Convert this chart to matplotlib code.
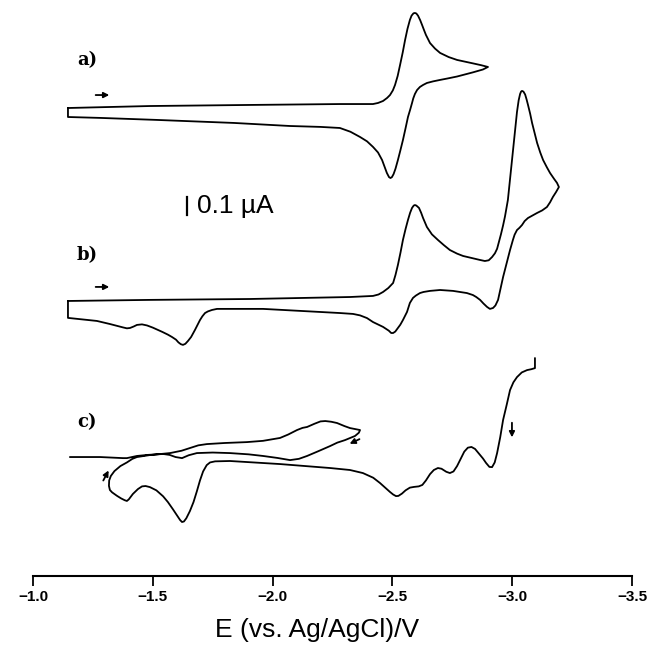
import numpy as np
import matplotlib
matplotlib.use("Agg")
import matplotlib.pyplot as plt

# potentials in V (vs. Ag/AgCl), currents in uA relative to each trace's start
# a) forward scan then return
a_E = [-1.146, -1.488, -1.906, -2.281, -2.419, -2.440, -2.461, -2.478, -2.490, -2.502,
       -2.511, -2.522, -2.532, -2.543, -2.553, -2.563, -2.573, -2.580, -2.588, -2.594,
       -2.600, -2.607, -2.616, -2.624, -2.632, -2.640, -2.657, -2.678, -2.699, -2.735,
       -2.770, -2.836, -2.870, -2.899,
       -2.878, -2.836, -2.770, -2.730, -2.699, -2.670, -2.644, -2.628, -2.615, -2.603,
       -2.594, -2.587, -2.582, -2.574, -2.565, -2.555, -2.544, -2.533, -2.523, -2.513,
       -2.505, -2.498, -2.492, -2.486, -2.477, -2.467, -2.457, -2.440, -2.419, -2.394,
       -2.365, -2.325, -2.281, -2.200, -2.073, -1.839, -1.513, -1.280, -1.146, -1.146]
a_I = [0.022, 0.033, 0.039, 0.044, 0.044, 0.050, 0.061, 0.078, 0.094, 0.120,
       0.150, 0.200, 0.261, 0.330, 0.400, 0.462, 0.511, 0.535, 0.548, 0.550,
       0.547, 0.535, 0.510, 0.483, 0.455, 0.428, 0.383, 0.352, 0.328, 0.305,
       0.289, 0.270, 0.260, 0.250,
       0.236, 0.220, 0.197, 0.186, 0.178, 0.170, 0.161, 0.150, 0.139, 0.122,
       0.100, 0.075, 0.050, 0.012, -0.028, -0.090, -0.156, -0.215, -0.267, -0.315,
       -0.345, -0.362, -0.367, -0.362, -0.339, -0.303, -0.267, -0.225, -0.194, -0.163,
       -0.139, -0.110, -0.089, -0.083, -0.078, -0.061, -0.044, -0.033, -0.028, 0.022]

# b)
b_E = [-1.146, -1.488, -1.906, -2.323, -2.419, -2.442, -2.461, -2.483, -2.503, -2.513,
       -2.523, -2.534, -2.544, -2.555, -2.565, -2.574, -2.582, -2.589, -2.594, -2.600,
       -2.611, -2.620, -2.628, -2.644, -2.665, -2.690, -2.715, -2.740, -2.770, -2.795,
       -2.836, -2.865, -2.886, -2.902, -2.916, -2.928, -2.937, -2.945, -2.953, -2.962,
       -2.970, -2.982, -2.995, -3.008, -3.020, -3.027, -3.033, -3.037, -3.041, -3.047,
       -3.054, -3.060, -3.066, -3.075, -3.083, -3.094, -3.104, -3.117, -3.129, -3.145,
       -3.158, -3.175, -3.187, -3.195,
       -3.183, -3.170, -3.158, -3.145, -3.125, -3.104, -3.085, -3.066, -3.052, -3.041,
       -3.030, -3.020, -3.010, -3.003, -2.991, -2.977, -2.962, -2.951, -2.941, -2.930,
       -2.920, -2.907, -2.895, -2.880, -2.866, -2.850, -2.836, -2.811, -2.753, -2.699,
       -2.657, -2.630, -2.615, -2.598, -2.586, -2.573, -2.561, -2.544, -2.533, -2.523,
       -2.512, -2.503, -2.495, -2.485, -2.461, -2.419, -2.394, -2.365, -2.336, -2.281,
       -1.960, -1.768, -1.747, -1.730, -1.718, -1.707, -1.697, -1.686, -1.676, -1.660,
       -1.647, -1.636, -1.626, -1.617, -1.607, -1.597, -1.580, -1.563, -1.540, -1.522,
       -1.500, -1.476, -1.455, -1.434, -1.420, -1.405, -1.392, -1.376, -1.350, -1.321,
       -1.267, -1.146, -1.146]
b_I = [0.050, 0.056, 0.061, 0.072, 0.078, 0.086, 0.100, 0.122, 0.150, 0.195,
       0.250, 0.320, 0.389, 0.450, 0.500, 0.540, 0.567, 0.580, 0.583, 0.580,
       0.567, 0.540, 0.511, 0.461, 0.420, 0.389, 0.360, 0.333, 0.313, 0.300,
       0.287, 0.278, 0.272, 0.276, 0.294, 0.315, 0.340, 0.380, 0.420, 0.470,
       0.520, 0.611, 0.778, 0.944, 1.100, 1.165, 1.200, 1.213, 1.217, 1.213,
       1.197, 1.170, 1.139, 1.090, 1.039, 0.980, 0.928, 0.875, 0.833, 0.792,
       0.761, 0.728, 0.706, 0.683,
       0.655, 0.628, 0.598, 0.572, 0.553, 0.539, 0.525, 0.511, 0.494, 0.472,
       0.456, 0.444, 0.418, 0.389, 0.333, 0.260, 0.183, 0.115, 0.056, 0.025,
       0.011, 0.006, 0.017, 0.036, 0.056, 0.072, 0.083, 0.094, 0.106, 0.111,
       0.106, 0.100, 0.094, 0.080, 0.067, 0.039, -0.011, -0.056, -0.082, -0.100,
       -0.120, -0.128, -0.128, -0.115, -0.094, -0.067, -0.045, -0.030, -0.022, -0.017,
       0.006, 0.006, 0.000, -0.008, -0.017, -0.035, -0.056, -0.085, -0.111, -0.150,
       -0.172, -0.188, -0.194, -0.190, -0.180, -0.165, -0.150, -0.137, -0.122, -0.111,
       -0.098, -0.086, -0.080, -0.083, -0.092, -0.100, -0.102, -0.097, -0.088, -0.078,
       -0.061, -0.044, 0.050]

# c) starts at -3.1 V, runs back to -1.3 V, then the small loop to -2.37 V
c_E = [-3.095, -3.095, -3.080, -3.062, -3.040, -3.020, -3.005, -2.991, -2.977, -2.962,
       -2.950, -2.937, -2.927, -2.916, -2.905, -2.891, -2.878, -2.866, -2.845, -2.830,
       -2.815, -2.800, -2.785, -2.770, -2.755, -2.740, -2.725, -2.705, -2.690, -2.673,
       -2.657, -2.640, -2.625, -2.610, -2.590, -2.573, -2.555, -2.540, -2.525, -2.515,
       -2.503, -2.490, -2.470, -2.448, -2.420, -2.377, -2.323, -2.240, -2.031, -1.822,
       -1.760, -1.739, -1.725, -1.710, -1.697, -1.684, -1.670, -1.655, -1.640, -1.630,
       -1.622, -1.614, -1.600, -1.584, -1.563, -1.543, -1.515, -1.488, -1.470, -1.455,
       -1.438, -1.417, -1.400, -1.392, -1.383, -1.368, -1.350, -1.330, -1.321, -1.317,
       -1.318, -1.325, -1.340, -1.365, -1.392, -1.415, -1.434,
       -1.488, -1.572, -1.620, -1.655, -1.690, -1.726, -1.800, -1.893, -1.960, -2.031,
       -2.065, -2.102, -2.125, -2.144, -2.175, -2.200, -2.220, -2.245, -2.269, -2.300,
       -2.323, -2.345, -2.365,
       -2.360, -2.344, -2.302, -2.270, -2.240, -2.190, -2.144, -2.110, -2.073, -2.020,
       -1.960, -1.900, -1.822, -1.750, -1.684, -1.650, -1.622, -1.595, -1.570, -1.543,
       -1.480, -1.434, -1.392, -1.376, -1.280, -1.154]
c_I = [0.550, 0.494, 0.488, 0.483, 0.470, 0.444, 0.415, 0.372, 0.290, 0.206,
       0.110, 0.022, -0.030, -0.056, -0.055, -0.033, -0.008, 0.011, 0.045, 0.056,
       0.052, 0.030, -0.010, -0.050, -0.080, -0.089, -0.082, -0.065, -0.061, -0.072,
       -0.095, -0.130, -0.155, -0.163, -0.166, -0.170, -0.185, -0.203, -0.216, -0.217,
       -0.208, -0.194, -0.170, -0.144, -0.115, -0.089, -0.072, -0.061, -0.039, -0.022,
       -0.024, -0.030, -0.045, -0.080, -0.130, -0.190, -0.250, -0.300, -0.340, -0.358,
       -0.361, -0.350, -0.322, -0.290, -0.250, -0.218, -0.185, -0.167, -0.161, -0.163,
       -0.178, -0.205, -0.235, -0.244, -0.240, -0.230, -0.215, -0.196, -0.183, -0.160,
       -0.130, -0.105, -0.078, -0.050, -0.030, -0.010, 0.000,
       0.011, 0.022, 0.035, 0.050, 0.065, 0.072, 0.078, 0.083, 0.090, 0.106,
       0.125, 0.150, 0.162, 0.167, 0.185, 0.198, 0.200, 0.196, 0.189, 0.172,
       0.161, 0.155, 0.150,
       0.135, 0.117, 0.094, 0.080, 0.061, 0.032, 0.006, -0.010, -0.017, -0.005,
       0.006, 0.015, 0.022, 0.025, 0.022, 0.010, -0.006, 0.000, 0.012, 0.017,
       0.012, 0.006, -0.006, -0.006, 0.000, 0.000]

labels = ["a)", "b)", "c)"]
ticks = [-1.0, -1.5, -2.0, -2.5, -3.0, -3.5]

fig = plt.figure(figsize=(6.48, 6.47), dpi=100)
ax = fig.add_axes([0.0509, 0.1097, 0.9244, 0.8903])

offsets = [0.0, -1.1, -1.917]
traces = [(a_E, a_I), (b_E, b_I), (c_E, c_I)]
for (E, I), off in zip(traces, offsets):
    ax.plot(E, np.array(I) + off, color="black", lw=1.3,
            solid_joinstyle="round", solid_capstyle="round")

# trace labels
for lab, yl in zip(labels, [0.289, -0.794, -1.722]):
    ax.text(-1.225, yl, lab, fontsize=13, fontweight="bold", family="DejaVu Serif",
            ha="center", va="center")

arr = dict(arrowstyle="-|>", lw=1.3, color="black", mutation_scale=8)
ax.annotate("", xy=(-1.330, 0.094), xytext=(-1.250, 0.094), arrowprops=arr)
ax.annotate("", xy=(-1.330, 0.128 - 1.1), xytext=(-1.250, 0.128 - 1.1), arrowprops=arr)
ax.annotate("", xy=(-1.321, -0.061 - 1.917), xytext=(-1.288, -0.144 - 1.917), arrowprops=arr)
ax.annotate("", xy=(-2.311, 0.067 - 1.917), xytext=(-2.373, 0.106 - 1.917), arrowprops=arr)
ax.annotate("", xy=(-2.999, 0.094 - 1.917), xytext=(-2.999, 0.206 - 1.917), arrowprops=arr)

# 0.1 uA scale bar
ax.plot([-1.643, -1.643], [-0.472, -0.572], color="black", lw=1.6)
ax.text(-1.685, -0.522, "0.1 µA", fontsize=19, family="Liberation Sans",
        ha="left", va="center")

ax.set_xlim(-1.0, -3.5)
ax.set_ylim(-2.578, 0.622)
for s in ["top", "left", "right"]:
    ax.spines[s].set_visible(False)
ax.spines["bottom"].set_linewidth(1.5)
ax.set_yticks([])
ax.set_xticks(ticks)
ax.set_xticklabels(["\u2212%.1f" % abs(t) for t in ticks], fontsize=11,
                   fontweight="bold", family="Liberation Sans")
ax.tick_params(axis="x", direction="out", length=7, width=1.3, pad=3)

fig.text(317 / 648, 1 - 630 / 647, "E (vs. Ag/AgCl)/V", fontsize=19,
         family="Liberation Sans", ha="center", va="center")

fig.savefig("out.png", dpi=100)
